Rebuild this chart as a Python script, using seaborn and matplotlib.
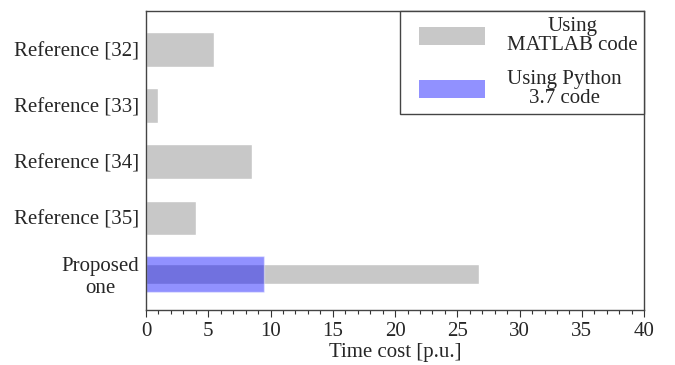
import numpy as np
import pandas as pd
import seaborn as sns
import matplotlib.pyplot as plt
from matplotlib.patches import Patch, Rectangle
from matplotlib.legend_handler import HandlerPatch
from matplotlib.ticker import MultipleLocator

categories = ["Reference [32]", "Reference [33]", "Reference [34]",
              "Reference [35]", "Proposed\none"]
matlab_cost = [5.5, 1.0, 8.5, 4.0, 26.7]
python_cost = [np.nan, np.nan, np.nan, np.nan, 9.5]
legend_labels = ["Using\nMATLAB code", "Using Python\n3.7 code"]

gray = "#c8c8c8"
blue_alpha = 0.43
blue = (0.0, 0.0, 1.0, blue_alpha)

sns.set_theme(style="white")
plt.rcParams["font.family"] = ["Liberation Serif", "DejaVu Serif"]
plt.rcParams["font.size"] = 15

df = pd.DataFrame({"method": categories, "matlab": matlab_cost,
                   "python": python_cost})
refs = df.iloc[:4]
prop = df.iloc[4:]

fig = plt.figure(figsize=(6.75, 3.65), dpi=100)
ax = fig.add_axes([0.2163, 0.151, 0.738, 0.819])

sns.barplot(data=refs, x="matlab", y="method", order=categories,
            orient="h", color=gray, width=0.62, saturation=1, ax=ax)
sns.barplot(data=prop, x="matlab", y="method", order=categories,
            orient="h", color=gray, width=0.36, saturation=1, ax=ax)
sns.barplot(data=prop, x="python", y="method", order=categories,
            orient="h", color=blue, width=0.64, saturation=1, ax=ax)
ax.patches[-1].set_alpha(blue_alpha)

ax.set_xlim(0, 40)
ax.set_ylim(4.64, -0.69)
ax.xaxis.set_major_locator(MultipleLocator(5))
ax.xaxis.set_minor_locator(MultipleLocator(1))
ax.tick_params(axis="x", which="major", direction="out", length=5,
               width=0.8, color="#333333", bottom=True, pad=4, labelsize=15)
ax.tick_params(axis="x", which="minor", direction="out", length=3,
               width=0.8, color="#333333", bottom=True)
ax.tick_params(axis="y", length=0, pad=5, labelsize=15)
for lab in ax.get_yticklabels():
    lab.set_multialignment("center")
ax.set_xlabel("Time cost [p.u.]", fontsize=15, labelpad=1)
ax.set_ylabel("")
for s in ax.spines.values():
    s.set_color("#444444")
    s.set_linewidth(1.0)


def inset_rect(legend, orig_handle, xdescent, ydescent, width, height,
               fontsize):
    # leave a blank margin on the left of each legend swatch
    off = width * 0.165
    return Rectangle((-xdescent + off, -ydescent), width - off, height)


handles = [Patch(facecolor=gray, edgecolor="none"),
           Patch(facecolor=blue, edgecolor="none")]
leg = ax.legend(handles, legend_labels, loc="upper right",
                bbox_to_anchor=(1.0, 1.0), borderaxespad=0,
                frameon=True, fancybox=False, edgecolor="#444444",
                framealpha=1, fontsize=15, handlelength=3.8,
                handleheight=0.96, labelspacing=0.7, handletextpad=1.05,
                borderpad=0.3,
                handler_map={Patch: HandlerPatch(patch_func=inset_rect)})
leg.get_frame().set_linewidth(1.0)
for t in leg.get_texts():
    t.set_multialignment("center")
    t.set_linespacing(1.0)

fig.savefig("out.png", dpi=100)
